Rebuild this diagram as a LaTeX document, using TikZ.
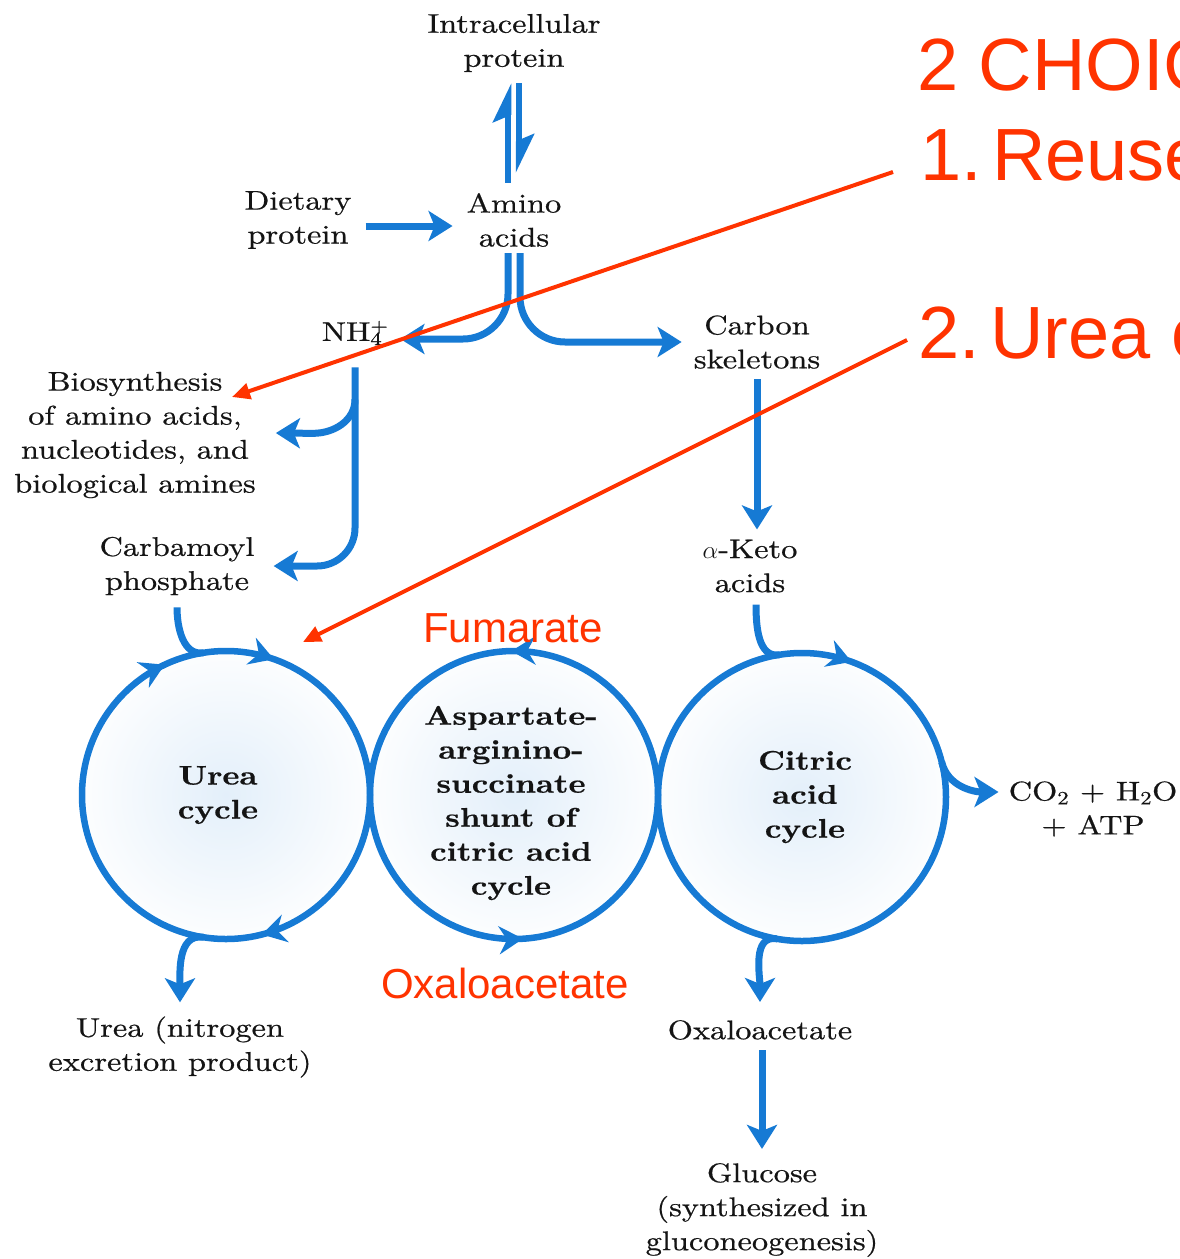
\documentclass[tikz,border=0pt]{standalone}
\usepackage{fontspec}
\setmainfont{lmroman10-regular.otf}[BoldFont=lmroman10-bold.otf, ItalicFont=lmroman10-italic.otf, FakeStretch=1.2, UprightFeatures={FakeBold=0.6}, BoldFeatures={FakeBold=0.5}]
\newfontfamily\redfont{Liberation Sans}
\usetikzlibrary{arrows.meta,decorations.markings,calc}
\definecolor{pblue}{RGB}{22,122,212}
\definecolor{pred}{RGB}{255,51,0}
\definecolor{ptext}{RGB}{20,20,20}
\begin{document}
\begin{tikzpicture}[x=1pt,y=1pt,
  bigtip/.tip={Stealth[length=24pt,width=30pt,inset=6pt]},
  cyctip/.tip={Stealth[length=24pt,width=28pt,inset=8pt]},
  harptip/.tip={Stealth[harpoon,length=32pt,width=30pt,inset=6pt]},
  redtip/.tip={Triangle[length=18pt,width=16pt]},
  lbl/.style={align=center, text=ptext, font=\fontsize{27}{34}\selectfont, inner sep=0pt},
  blbl/.style={lbl, font=\fontsize{27}{34}\selectfont\bfseries},
  redlbl/.style={text=pred, font=\redfont\fontsize{42}{48}\selectfont, inner sep=0pt},
  bigred/.style={text=pred, font=\redfont\fontsize{74}{80}\selectfont, inner sep=0pt, anchor=base west},
  flow/.style={draw=pblue, line width=7pt},
  tip/.style={-bigtip},
  harp/.style={draw=pblue, line width=6.5pt, -harptip},
  cyc/.style={circle, minimum size=288pt, inner sep=0pt, outer sep=0pt},
  redarrow/.style={draw=pred, line width=4pt, -redtip}
]
\useasboundingbox (0,0) rectangle (1179,-1259);
\clip (0,0) rectangle (1179,-1259);

% cycles
\node[cyc] (ucyc) at (226,-795) {};
\node[cyc] (scyc) at (514,-795) {};
\node[cyc] (ccyc) at (802,-797) {};
\foreach \c in {ucyc,scyc,ccyc}{
  \begin{scope}
    \clip (\c.center) circle[radius=140pt];
    \shade[inner color=pblue!12, outer color=white] (\c.center) circle[radius=160pt];
  \end{scope}
}
\draw[flow, line width=6.5pt, postaction={decorate}, decoration={markings,
   mark=at position 0.196 with {\arrowreversed{cyctip}},
   mark=at position 0.32 with {\arrowreversed{cyctip}},
   mark=at position 0.79 with {\arrowreversed{cyctip}}}] (ucyc.center) circle[radius=144pt];
\draw[flow, line width=6.5pt, postaction={decorate}, decoration={markings,
   mark=at position 0.253 with {\arrow{cyctip}},
   mark=at position 0.76 with {\arrow{cyctip}}}] (scyc.center) circle[radius=144pt];
\draw[flow, line width=6.5pt, postaction={decorate}, decoration={markings,
   mark=at position 0.194 with {\arrowreversed{cyctip}}}] (ccyc.center) circle[radius=144pt];

% labels
\node[lbl] (intra) at (514,-43) {Intracellular\\protein};
\node[lbl] (amino) at (514,-220) {Amino\\acids};
\node[lbl] (diet) at (298,-220) {Dietary\\protein};
\node[lbl] (nh4) at (352,-333) {NH\rlap{\textsuperscript{+}}\textsubscript{4}};
\node[lbl] (carbon) at (757,-342) {Carbon\\skeletons};
\node[lbl] (bio) at (135,-435) {Biosynthesis\\of amino acids,\\nucleotides, and\\biological amines};
\node[lbl] (carb) at (177,-566) {Carbamoyl\\phosphate};
\node[lbl] (keto) at (750,-566) {$\alpha$-Keto\\acids};
\node[blbl] (ulabel) at (218,-795) {Urea\\cycle};
\node[blbl] (slabel) at (511,-803) {Aspartate-\\arginino-\\succinate\\shunt of\\citric acid\\cycle};
\node[blbl] (clabel) at (805,-797) {Citric\\acid\\cycle};
\node[lbl] (co2) at (1093,-809) {CO\textsubscript{2} + H\textsubscript{2}O\\+ ATP};
\node[lbl] (urea) at (180,-1047) {Urea (nitrogen\\excretion product)};
\node[lbl] (oxa) at (760,-1030) {Oxaloacetate};
\node[lbl] (glu) at (762,-1210) {Glucose\\(synthesized in\\gluconeogenesis)};
\node[redlbl] (fum) at (513,-628) {Fumarate};
\node[redlbl] (oxr) at (505,-983) {Oxaloacetate};
\node[bigred] (choice) at (917,-90) {2 CHOIC};
\node[bigred] (reuse) at (920,-180) {\makebox[72pt][l]{1.}Reuse};
\node[bigred] (ureaopt) at (918,-358) {\makebox[72pt][l]{2.}Urea c};

% connectors
\draw[harp] ([shift={(-6pt,10pt)}]amino.north) -- ([shift={(-6pt,-11pt)}]intra.south);
\draw[harp] ([shift={(5pt,-11pt)}]intra.south) -- ([shift={(5pt,20pt)}]amino.north);
\draw[flow,tip] ([shift={(14pt,-6pt)}]diet.east) -- ([shift={(-14pt,-6pt)}]amino.west);
\draw[flow,tip,rounded corners=45pt] ([shift={(-6pt,-6pt)}]amino.south) |- ([shift={(18pt,-6pt)}]nh4.east);
\draw[flow,tip,rounded corners=45pt] ([shift={(6pt,-6pt)}]amino.south) |- ([xshift=-12pt]carbon.west);
\coordinate (nhtop) at ([shift={(3pt,-22pt)}]nh4.south);
\draw[flow,tip,rounded corners=38pt] (nhtop) |- ([xshift=19pt]carb.east);
\draw[flow,tip] ($(nhtop)+(0,-32)$) to[out=-90,in=0] ($(nhtop)+(-42,-66)$) -- ([shift={(20pt,0pt)}]bio.east |- 0,-433);
\draw[flow,tip] ([yshift=-10pt]carbon.south) -- ([yshift=10pt]carbon.south |- keto.north);
\draw[flow] ([yshift=-12pt]carb.south) to[out=-90,in=189] (ucyc.99);
\draw[flow] ([shift={(6pt,-12pt)}]keto.south) to[out=-90,in=189] (ccyc.99);
\draw[flow,tip] (ucyc.261) to[out=171,in=90] ([yshift=14pt]urea.north);
\draw[flow,tip] (ccyc.260) to[out=170,in=90] ([yshift=18pt]oxa.north);
\draw[flow,tip] (ccyc.14) to[out=-76,in=180] ([shift={(-10pt,17pt)}]co2.west);
\draw[flow,tip] ([shift={(2pt,-10pt)}]oxa.south) -- ([yshift=14pt]glu.north);

% red annotation arrows
\coordinate (r1s) at ([shift={(-27pt,8pt)}]reuse.base west);
\coordinate (r1e) at (232,-397);
\coordinate (r2s) at ([shift={(-11pt,18pt)}]ureaopt.base west);
\coordinate (r2e) at (303,-642);
\draw[redarrow] (r1s) -- (r1e);
\draw[redarrow] (r2s) -- (r2e);
\end{tikzpicture}
\end{document}
